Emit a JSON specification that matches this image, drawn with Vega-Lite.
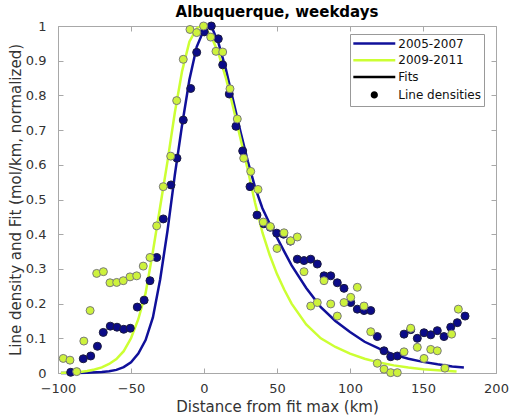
{
  "$schema": "https://vega.github.io/schema/vega-lite/v6.json",
  "width": 438,
  "height": 347,
  "autosize": {"type": "none"},
  "padding": {"left": 58, "top": 26, "right": 15, "bottom": 46},
  "background": "white",
  "config": {
    "font": "DejaVu Sans",
    "view": {"stroke": "#a8a8a8", "strokeWidth": 1},
    "axis": {
      "grid": false,
      "domainColor": "#a8a8a8",
      "tickColor": "#a8a8a8",
      "tickSize": -5,
      "labelColor": "#333333",
      "labelFont": "DejaVu Sans",
      "labelFontSize": 13,
      "titleFont": "DejaVu Sans",
      "titleFontSize": 15,
      "titleFontWeight": "normal",
      "titleColor": "#333333",
      "labelFlush": false,
      "labelOverlap": false,
      "labelBound": false
    },
    "legend": {
      "orient": "none",
      "legendX": 292,
      "legendY": 8,
      "padding": 3,
      "strokeColor": "#999999",
      "fillColor": "#ffffff",
      "labelFont": "DejaVu Sans",
      "labelFontSize": 12,
      "labelColor": "#111111",
      "labelLimit": 200,
      "symbolStrokeWidth": 2.5,
      "symbolSize": 110,
      "symbolOffset": 14.8,
      "labelOffset": 17.5,
      "rowPadding": 3.8
    }
  },
  "title": {
    "text": "Albuquerque, weekdays",
    "font": "DejaVu Sans",
    "fontSize": 15,
    "fontWeight": "bold",
    "color": "#000000",
    "anchor": "middle",
    "frame": "group",
    "baseline": "bottom",
    "offset": 4,
    "dy": 19
  },
  "datasets": {
    "pts": [
      {"x": -91.3, "y": 0.002, "period": "2005-2007"},
      {"x": -82.7, "y": 0.041, "period": "2005-2007"},
      {"x": -77.6, "y": 0.049, "period": "2005-2007"},
      {"x": -73.0, "y": 0.077, "period": "2005-2007"},
      {"x": -69.0, "y": 0.117, "period": "2005-2007"},
      {"x": -64.2, "y": 0.135, "period": "2005-2007"},
      {"x": -59.6, "y": 0.132, "period": "2005-2007"},
      {"x": -55.0, "y": 0.126, "period": "2005-2007"},
      {"x": -50.5, "y": 0.129, "period": "2005-2007"},
      {"x": -45.7, "y": 0.19, "period": "2005-2007"},
      {"x": -41.0, "y": 0.21, "period": "2005-2007"},
      {"x": -37.0, "y": 0.266, "period": "2005-2007"},
      {"x": -32.4, "y": 0.333, "period": "2005-2007"},
      {"x": -27.9, "y": 0.444, "period": "2005-2007"},
      {"x": -22.6, "y": 0.542, "period": "2005-2007"},
      {"x": -18.5, "y": 0.619, "period": "2005-2007"},
      {"x": -14.2, "y": 0.729, "period": "2005-2007"},
      {"x": -9.1, "y": 0.82, "period": "2005-2007"},
      {"x": -5.0, "y": 0.924, "period": "2005-2007"},
      {"x": 0.2, "y": 0.983, "period": "2005-2007"},
      {"x": 5.0, "y": 1.0, "period": "2005-2007"},
      {"x": 9.8, "y": 0.963, "period": "2005-2007"},
      {"x": 12.8, "y": 0.888, "period": "2005-2007"},
      {"x": 17.3, "y": 0.804, "period": "2005-2007"},
      {"x": 21.9, "y": 0.711, "period": "2005-2007"},
      {"x": 26.5, "y": 0.64, "period": "2005-2007"},
      {"x": 31.5, "y": 0.537, "period": "2005-2007"},
      {"x": 36.3, "y": 0.455, "period": "2005-2007"},
      {"x": 41.0, "y": 0.43, "period": "2005-2007"},
      {"x": 45.4, "y": 0.42, "period": "2005-2007"},
      {"x": 49.8, "y": 0.403, "period": "2005-2007"},
      {"x": 54.5, "y": 0.4, "period": "2005-2007"},
      {"x": 59.2, "y": 0.38, "period": "2005-2007"},
      {"x": 63.9, "y": 0.328, "period": "2005-2007"},
      {"x": 68.5, "y": 0.324, "period": "2005-2007"},
      {"x": 73.1, "y": 0.328, "period": "2005-2007"},
      {"x": 77.6, "y": 0.314, "period": "2005-2007"},
      {"x": 82.2, "y": 0.28, "period": "2005-2007"},
      {"x": 86.8, "y": 0.28, "period": "2005-2007"},
      {"x": 91.3, "y": 0.26, "period": "2005-2007"},
      {"x": 95.9, "y": 0.244, "period": "2005-2007"},
      {"x": 100.5, "y": 0.203, "period": "2005-2007"},
      {"x": 105.0, "y": 0.184, "period": "2005-2007"},
      {"x": 109.6, "y": 0.18, "period": "2005-2007"},
      {"x": 114.2, "y": 0.18, "period": "2005-2007"},
      {"x": 118.7, "y": 0.105, "period": "2005-2007"},
      {"x": 123.3, "y": 0.064, "period": "2005-2007"},
      {"x": 127.9, "y": 0.047, "period": "2005-2007"},
      {"x": 132.4, "y": 0.049, "period": "2005-2007"},
      {"x": 137.0, "y": 0.112, "period": "2005-2007"},
      {"x": 141.6, "y": 0.125, "period": "2005-2007"},
      {"x": 146.1, "y": 0.1, "period": "2005-2007"},
      {"x": 150.7, "y": 0.116, "period": "2005-2007"},
      {"x": 155.3, "y": 0.11, "period": "2005-2007"},
      {"x": 159.8, "y": 0.122, "period": "2005-2007"},
      {"x": 164.4, "y": 0.105, "period": "2005-2007"},
      {"x": 169.0, "y": 0.132, "period": "2005-2007"},
      {"x": 173.5, "y": 0.145, "period": "2005-2007"},
      {"x": 178.8, "y": 0.164, "period": "2005-2007"},
      {"x": -96.4, "y": 0.042, "period": "2009-2011"},
      {"x": -91.8, "y": 0.037, "period": "2009-2011"},
      {"x": -87.2, "y": 0.004, "period": "2009-2011"},
      {"x": -82.3, "y": 0.092, "period": "2009-2011"},
      {"x": -78.0, "y": 0.18, "period": "2009-2011"},
      {"x": -73.5, "y": 0.287, "period": "2009-2011"},
      {"x": -68.9, "y": 0.292, "period": "2009-2011"},
      {"x": -64.4, "y": 0.26, "period": "2009-2011"},
      {"x": -59.8, "y": 0.261, "period": "2009-2011"},
      {"x": -55.3, "y": 0.266, "period": "2009-2011"},
      {"x": -50.7, "y": 0.277, "period": "2009-2011"},
      {"x": -46.1, "y": 0.28, "period": "2009-2011"},
      {"x": -41.6, "y": 0.308, "period": "2009-2011"},
      {"x": -37.0, "y": 0.333, "period": "2009-2011"},
      {"x": -32.4, "y": 0.424, "period": "2009-2011"},
      {"x": -27.9, "y": 0.537, "period": "2009-2011"},
      {"x": -22.8, "y": 0.625, "period": "2009-2011"},
      {"x": -18.7, "y": 0.785, "period": "2009-2011"},
      {"x": -14.2, "y": 0.904, "period": "2009-2011"},
      {"x": -9.6, "y": 0.99, "period": "2009-2011"},
      {"x": -5.0, "y": 0.981, "period": "2009-2011"},
      {"x": -0.3, "y": 1.0, "period": "2009-2011"},
      {"x": 4.6, "y": 0.968, "period": "2009-2011"},
      {"x": 8.2, "y": 0.927, "period": "2009-2011"},
      {"x": 12.8, "y": 0.925, "period": "2009-2011"},
      {"x": 17.8, "y": 0.819, "period": "2009-2011"},
      {"x": 22.8, "y": 0.732, "period": "2009-2011"},
      {"x": 27.2, "y": 0.619, "period": "2009-2011"},
      {"x": 32.0, "y": 0.581, "period": "2009-2011"},
      {"x": 37.0, "y": 0.529, "period": "2009-2011"},
      {"x": 40.6, "y": 0.435, "period": "2009-2011"},
      {"x": 45.4, "y": 0.422, "period": "2009-2011"},
      {"x": 50.0, "y": 0.359, "period": "2009-2011"},
      {"x": 54.8, "y": 0.404, "period": "2009-2011"},
      {"x": 59.4, "y": 0.381, "period": "2009-2011"},
      {"x": 63.9, "y": 0.392, "period": "2009-2011"},
      {"x": 68.5, "y": 0.292, "period": "2009-2011"},
      {"x": 73.1, "y": 0.193, "period": "2009-2011"},
      {"x": 77.6, "y": 0.203, "period": "2009-2011"},
      {"x": 82.2, "y": 0.266, "period": "2009-2011"},
      {"x": 86.8, "y": 0.199, "period": "2009-2011"},
      {"x": 91.3, "y": 0.164, "period": "2009-2011"},
      {"x": 95.9, "y": 0.203, "period": "2009-2011"},
      {"x": 100.5, "y": 0.218, "period": "2009-2011"},
      {"x": 105.0, "y": 0.247, "period": "2009-2011"},
      {"x": 109.6, "y": 0.193, "period": "2009-2011"},
      {"x": 114.2, "y": 0.119, "period": "2009-2011"},
      {"x": 118.7, "y": 0.028, "period": "2009-2011"},
      {"x": 123.3, "y": 0.011, "period": "2009-2011"},
      {"x": 127.9, "y": 0.001, "period": "2009-2011"},
      {"x": 132.4, "y": 0.001, "period": "2009-2011"},
      {"x": 137.0, "y": 0.061, "period": "2009-2011"},
      {"x": 141.6, "y": 0.129, "period": "2009-2011"},
      {"x": 146.1, "y": 0.074, "period": "2009-2011"},
      {"x": 150.7, "y": 0.042, "period": "2009-2011"},
      {"x": 155.3, "y": 0.068, "period": "2009-2011"},
      {"x": 159.8, "y": 0.064, "period": "2009-2011"},
      {"x": 165.0, "y": 0.014, "period": "2009-2011"},
      {"x": 169.6, "y": 0.112, "period": "2009-2011"},
      {"x": 174.2, "y": 0.184, "period": "2009-2011"}
    ],
    "fits": [
      {"x": -98, "y": 0.0, "period": "2005-2007"},
      {"x": -90, "y": 0.0003, "period": "2005-2007"},
      {"x": -80, "y": 0.001, "period": "2005-2007"},
      {"x": -70, "y": 0.003, "period": "2005-2007"},
      {"x": -65, "y": 0.005, "period": "2005-2007"},
      {"x": -60, "y": 0.009, "period": "2005-2007"},
      {"x": -55, "y": 0.017, "period": "2005-2007"},
      {"x": -50, "y": 0.031, "period": "2005-2007"},
      {"x": -45, "y": 0.056, "period": "2005-2007"},
      {"x": -40, "y": 0.095, "period": "2005-2007"},
      {"x": -35, "y": 0.16, "period": "2005-2007"},
      {"x": -30, "y": 0.27, "period": "2005-2007"},
      {"x": -25, "y": 0.41, "period": "2005-2007"},
      {"x": -20, "y": 0.57, "period": "2005-2007"},
      {"x": -15, "y": 0.715, "period": "2005-2007"},
      {"x": -10, "y": 0.845, "period": "2005-2007"},
      {"x": -5, "y": 0.94, "period": "2005-2007"},
      {"x": 0, "y": 0.99, "period": "2005-2007"},
      {"x": 3, "y": 1.0, "period": "2005-2007"},
      {"x": 6, "y": 0.99, "period": "2005-2007"},
      {"x": 10, "y": 0.95, "period": "2005-2007"},
      {"x": 15, "y": 0.875, "period": "2005-2007"},
      {"x": 20, "y": 0.785, "period": "2005-2007"},
      {"x": 25, "y": 0.695, "period": "2005-2007"},
      {"x": 30, "y": 0.61, "period": "2005-2007"},
      {"x": 35, "y": 0.535, "period": "2005-2007"},
      {"x": 40, "y": 0.475, "period": "2005-2007"},
      {"x": 45, "y": 0.43, "period": "2005-2007"},
      {"x": 50, "y": 0.39, "period": "2005-2007"},
      {"x": 55, "y": 0.35, "period": "2005-2007"},
      {"x": 60, "y": 0.31, "period": "2005-2007"},
      {"x": 70, "y": 0.245, "period": "2005-2007"},
      {"x": 80, "y": 0.19, "period": "2005-2007"},
      {"x": 90, "y": 0.15, "period": "2005-2007"},
      {"x": 100, "y": 0.118, "period": "2005-2007"},
      {"x": 110, "y": 0.09, "period": "2005-2007"},
      {"x": 120, "y": 0.07, "period": "2005-2007"},
      {"x": 130, "y": 0.053, "period": "2005-2007"},
      {"x": 140, "y": 0.041, "period": "2005-2007"},
      {"x": 150, "y": 0.032, "period": "2005-2007"},
      {"x": 160, "y": 0.025, "period": "2005-2007"},
      {"x": 170, "y": 0.019, "period": "2005-2007"},
      {"x": 178, "y": 0.016, "period": "2005-2007"},
      {"x": -98, "y": 0.0, "period": "2009-2011"},
      {"x": -90, "y": 0.002, "period": "2009-2011"},
      {"x": -85, "y": 0.003, "period": "2009-2011"},
      {"x": -80, "y": 0.006, "period": "2009-2011"},
      {"x": -75, "y": 0.01, "period": "2009-2011"},
      {"x": -70, "y": 0.016, "period": "2009-2011"},
      {"x": -65, "y": 0.026, "period": "2009-2011"},
      {"x": -60, "y": 0.04, "period": "2009-2011"},
      {"x": -55, "y": 0.063, "period": "2009-2011"},
      {"x": -50, "y": 0.1, "period": "2009-2011"},
      {"x": -45, "y": 0.155, "period": "2009-2011"},
      {"x": -40, "y": 0.23, "period": "2009-2011"},
      {"x": -35, "y": 0.35, "period": "2009-2011"},
      {"x": -30, "y": 0.48, "period": "2009-2011"},
      {"x": -25, "y": 0.61, "period": "2009-2011"},
      {"x": -20, "y": 0.75, "period": "2009-2011"},
      {"x": -15, "y": 0.87, "period": "2009-2011"},
      {"x": -10, "y": 0.955, "period": "2009-2011"},
      {"x": -5, "y": 0.993, "period": "2009-2011"},
      {"x": -2, "y": 1.0, "period": "2009-2011"},
      {"x": 0, "y": 0.998, "period": "2009-2011"},
      {"x": 5, "y": 0.97, "period": "2009-2011"},
      {"x": 10, "y": 0.92, "period": "2009-2011"},
      {"x": 15, "y": 0.85, "period": "2009-2011"},
      {"x": 20, "y": 0.765, "period": "2009-2011"},
      {"x": 25, "y": 0.675, "period": "2009-2011"},
      {"x": 30, "y": 0.585, "period": "2009-2011"},
      {"x": 35, "y": 0.49, "period": "2009-2011"},
      {"x": 40, "y": 0.405, "period": "2009-2011"},
      {"x": 45, "y": 0.34, "period": "2009-2011"},
      {"x": 50, "y": 0.285, "period": "2009-2011"},
      {"x": 55, "y": 0.24, "period": "2009-2011"},
      {"x": 60, "y": 0.2, "period": "2009-2011"},
      {"x": 70, "y": 0.14, "period": "2009-2011"},
      {"x": 80, "y": 0.1, "period": "2009-2011"},
      {"x": 90, "y": 0.075, "period": "2009-2011"},
      {"x": 100, "y": 0.056, "period": "2009-2011"},
      {"x": 110, "y": 0.041, "period": "2009-2011"},
      {"x": 120, "y": 0.03, "period": "2009-2011"},
      {"x": 130, "y": 0.022, "period": "2009-2011"},
      {"x": 140, "y": 0.016, "period": "2009-2011"},
      {"x": 150, "y": 0.011, "period": "2009-2011"},
      {"x": 160, "y": 0.008, "period": "2009-2011"},
      {"x": 170, "y": 0.005, "period": "2009-2011"},
      {"x": 173, "y": 0.004, "period": "2009-2011"}
    ],
    "leg": [
      {"item": "2005-2007"},
      {"item": "2009-2011"},
      {"item": "Fits"},
      {"item": "Line densities"}
    ]
  },
  "layer": [
    {
      "data": {"name": "fits"},
      "transform": [{"filter": "datum.period === '2005-2007'"}],
      "mark": {"type": "line", "color": "#10109a", "strokeWidth": 2.5},
      "encoding": {
        "x": {"field": "x", "type": "quantitative", "scale": {"domain": [-100, 200], "nice": false, "zero": false},
          "axis": {"orient": "bottom", "values": [-100, -50, 0, 50, 100, 150, 200], "title": "Distance from fit max (km)", "labelPadding": 14, "titlePadding": 4}},
        "y": {"field": "y", "type": "quantitative", "scale": {"domain": [0, 1], "nice": false, "zero": false},
          "axis": {"orient": "left", "values": [0, 0.1, 0.2, 0.3, 0.4, 0.5, 0.6, 0.7, 0.8, 0.9, 1], "format": "~g", "title": "Line density and Fit (mol/km, normalized)", "labelPadding": 17, "titlePadding": 2}}
      }
    },
    {
      "data": {"name": "fits"},
      "transform": [{"filter": "datum.period === '2009-2011'"}],
      "mark": {"type": "line", "color": "#ccff33", "strokeWidth": 2.5},
      "encoding": {
        "x": {"field": "x", "type": "quantitative", "scale": {"domain": [-100, 200], "nice": false, "zero": false}, "axis": null},
        "y": {"field": "y", "type": "quantitative", "scale": {"domain": [0, 1], "nice": false, "zero": false}, "axis": null}
      }
    },
    {
      "data": {"name": "pts"},
      "transform": [{"filter": "datum.period === '2005-2007'"}],
      "mark": {"type": "point", "shape": "circle", "filled": true, "opacity": 1, "size": 64, "fill": "#0b0b88", "stroke": "#1c1c40", "strokeWidth": 1},
      "encoding": {
        "x": {"field": "x", "type": "quantitative", "scale": {"domain": [-100, 200], "nice": false, "zero": false}, "axis": null},
        "y": {"field": "y", "type": "quantitative", "scale": {"domain": [0, 1], "nice": false, "zero": false}, "axis": null}
      }
    },
    {
      "data": {"name": "pts"},
      "transform": [{"filter": "datum.period === '2009-2011'"}],
      "mark": {"type": "point", "shape": "circle", "filled": true, "opacity": 1, "size": 64, "fill": "#cdf23c", "stroke": "#7a7a7a", "strokeWidth": 1},
      "encoding": {
        "x": {"field": "x", "type": "quantitative", "scale": {"domain": [-100, 200], "nice": false, "zero": false}, "axis": null},
        "y": {"field": "y", "type": "quantitative", "scale": {"domain": [0, 1], "nice": false, "zero": false}, "axis": null}
      }
    },
    {
      "data": {"name": "leg"},
      "mark": {"type": "point", "filled": true, "opacity": 1, "size": 110, "strokeWidth": 2.5},
      "encoding": {
        "x": {"field": "lx", "type": "quantitative", "scale": {"domain": [-100, 200], "nice": false, "zero": false},
          "axis": {"orient": "top", "values": [-100, -50, 0, 50, 100, 150, 200], "labels": false, "domain": false, "title": null}},
        "y": {"field": "ly", "type": "quantitative", "scale": {"domain": [0, 1], "nice": false, "zero": false},
          "axis": {"orient": "right", "values": [0, 0.1, 0.2, 0.3, 0.4, 0.5, 0.6, 0.7, 0.8, 0.9, 1], "labels": false, "domain": false, "title": null}},
        "fill": {"field": "item", "type": "nominal",
          "scale": {"domain": ["2005-2007", "2009-2011", "Fits", "Line densities"], "range": ["#10109a", "#ccff33", "#000000", "#000000"]},
          "legend": {"title": null}},
        "stroke": {"field": "item", "type": "nominal",
          "scale": {"domain": ["2005-2007", "2009-2011", "Fits", "Line densities"], "range": ["#10109a", "#ccff33", "#000000", "#000000"]},
          "legend": {"title": null}},
        "shape": {"field": "item", "type": "nominal",
          "scale": {"domain": ["2005-2007", "2009-2011", "Fits", "Line densities"], "range": ["M-4,0H4", "M-4,0H4", "M-4,0H4", "M-0.45,0A0.45,0.45,0,1,1,0.45,0A0.45,0.45,0,1,1,-0.45,0Z"]},
          "legend": {"title": null}}
      }
    }
  ],
  "resolve": {"axis": {"x": "independent", "y": "independent"}}
}
